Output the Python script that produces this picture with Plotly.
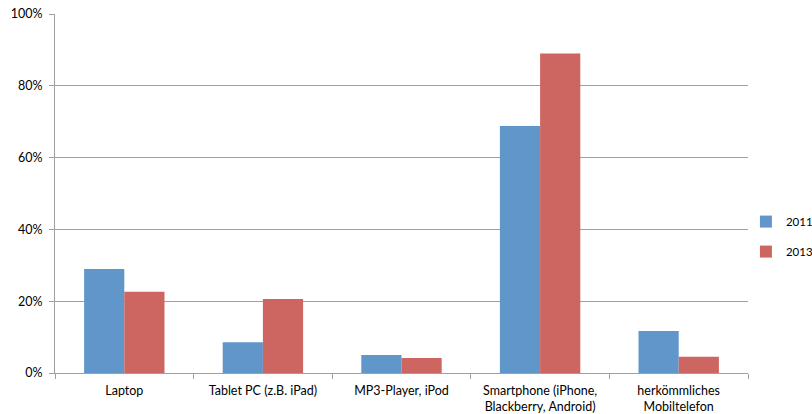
import plotly.graph_objects as go

categories = ["Laptop", "Tablet PC (z.B. iPad)", "MP3-Player, iPod",
              "Smartphone (iPhone,<br>Blackberry, Android)", "herkömmliches<br>Mobiltelefon"]
values_2011 = [29.0, 8.6, 5.0, 68.8, 11.7]
values_2013 = [22.6, 20.6, 4.2, 89.0, 4.5]
y_ticks = [0, 20, 40, 60, 80, 100]
y_tick_labels = ["0%", "20%", "40%", "60%", "80%", "100%"]

fig = go.Figure()
fig.add_trace(go.Bar(name="2011", x=categories, y=values_2011, marker_color="#6096CA",
                     marker_line_width=0, legendgroup="a"))
fig.add_trace(go.Bar(name="2013", x=categories, y=values_2013, marker_color="#CD6661",
                     marker_line_width=0, legendgroup="b"))

fig.update_layout(
    width=812, height=414,
    margin=dict(l=55, r=64, t=14, b=41, autoexpand=False),
    paper_bgcolor="white", plot_bgcolor="white",
    barmode="group", bargap=0.42, bargroupgap=0,
    font=dict(family="Lato, Carlito, sans-serif", size=12.5, color="#000000"),
    showlegend=True,
    legend=dict(x=0.997, y=0.38, xanchor="left", yanchor="middle",
                font=dict(size=11.5), itemwidth=30, tracegroupgap=11,
                bgcolor="rgba(0,0,0,0)"),
    xaxis=dict(showline=True, linecolor="#a0a0a0", linewidth=1,
               ticks="outside", ticklen=5, tickcolor="#a0a0a0", tickson="boundaries",
               showgrid=False, ticklabelstandoff=6),
    yaxis=dict(range=[0, 100], tickvals=y_ticks, ticktext=y_tick_labels,
               showline=True, linecolor="#a0a0a0", linewidth=1,
               ticks="outside", ticklen=5, tickcolor="#a0a0a0", ticklabelstandoff=4,
               showgrid=True, gridcolor="#a0a0a0", gridwidth=1, zeroline=False),
)

fig.write_html("out.html")
